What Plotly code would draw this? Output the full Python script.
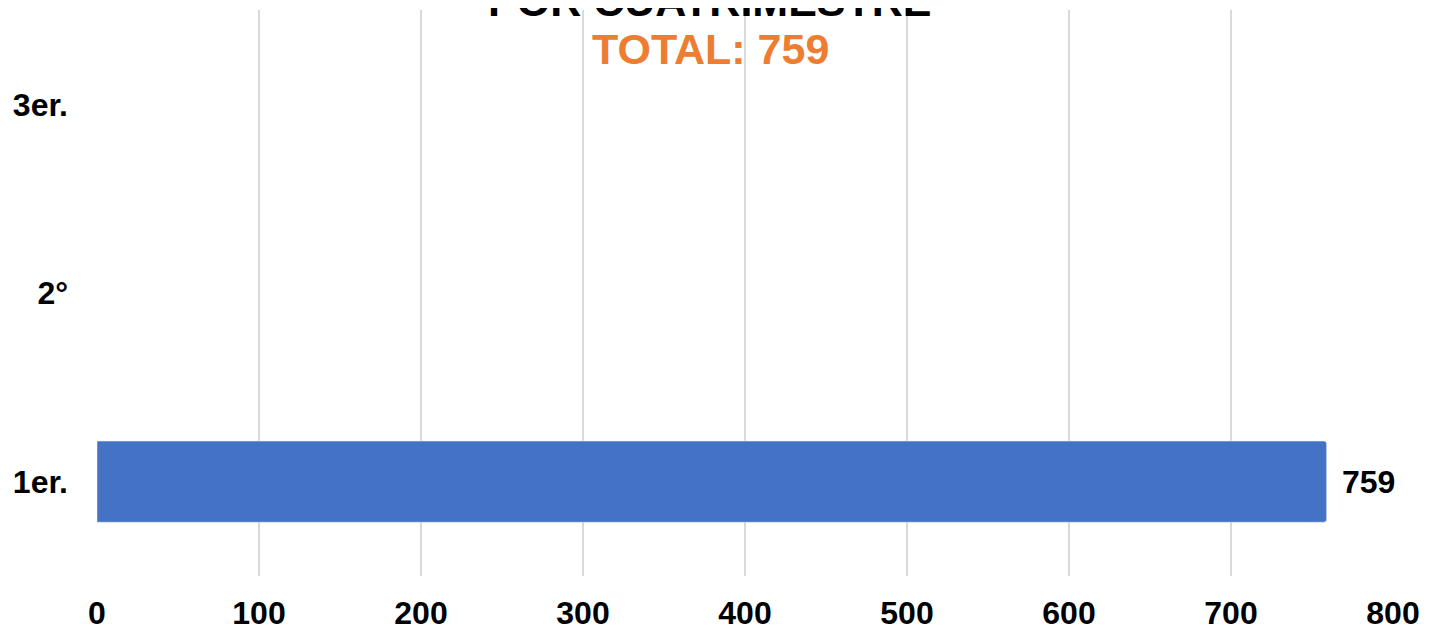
import plotly.graph_objects as go

categories = ["1er.", "2°", "3er."]
values = [759, None, None]
x_ticks = [0, 100, 200, 300, 400, 500, 600, 700, 800]
title_line = "POR CUATRIMESTRE"
total_label = "TOTAL: 759"

FONT = "Arial, Liberation Sans, sans-serif"

fig = go.Figure()
fig.add_trace(go.Bar(
    y=categories,
    x=values,
    orientation="h",
    marker=dict(color="#4472C4", cornerradius=3),
    width=0.43,
    hoverinfo="skip",
))

annotations = []
for c, v in zip(categories, values):
    if v:
        annotations.append(dict(
            text=f"<b>{v}</b>", x=v, y=c, xref="x", yref="y",
            xanchor="left", yanchor="middle", xshift=13, showarrow=False,
            font=dict(family=FONT, size=32, color="black")))

annotations += [
    dict(text=f"<b>{title_line}</b>", xref="paper", yref="paper",
         x=0.473, y=1.016, xanchor="center", yanchor="middle",
         showarrow=False, font=dict(family=FONT, size=43, color="black")),
    dict(text=f"<b>{total_label}</b>", xref="paper", yref="paper",
         x=0.473, y=0.931, xanchor="center", yanchor="middle",
         showarrow=False, font=dict(family=FONT, size=43, color="#ED7D31")),
]

fig.update_layout(
    width=1421, height=623,
    margin=dict(l=89, r=36, t=2, b=55, autoexpand=False),
    plot_bgcolor="white", paper_bgcolor="white",
    showlegend=False,
    xaxis=dict(
        range=[0, 800], tickvals=x_ticks,
        ticktext=[f"<b>{t}</b>" for t in x_ticks],
        showgrid=True, gridcolor="#D9D9D9", gridwidth=2,
        zeroline=False, showline=False, automargin=False,
        tickfont=dict(family=FONT, size=32, color="black"),
        ticklabelstandoff=15,
    ),
    yaxis=dict(
        categoryorder="array", categoryarray=categories,
        range=[-0.5, 2.5],
        tickvals=categories,
        ticktext=[f"<b>{c}</b>" for c in categories],
        showgrid=False, zeroline=False, showline=False, automargin=False,
        tickfont=dict(family=FONT, size=32, color="black"),
        ticklabelstandoff=28,
    ),
    annotations=annotations,
)

fig.write_html("out.html")
